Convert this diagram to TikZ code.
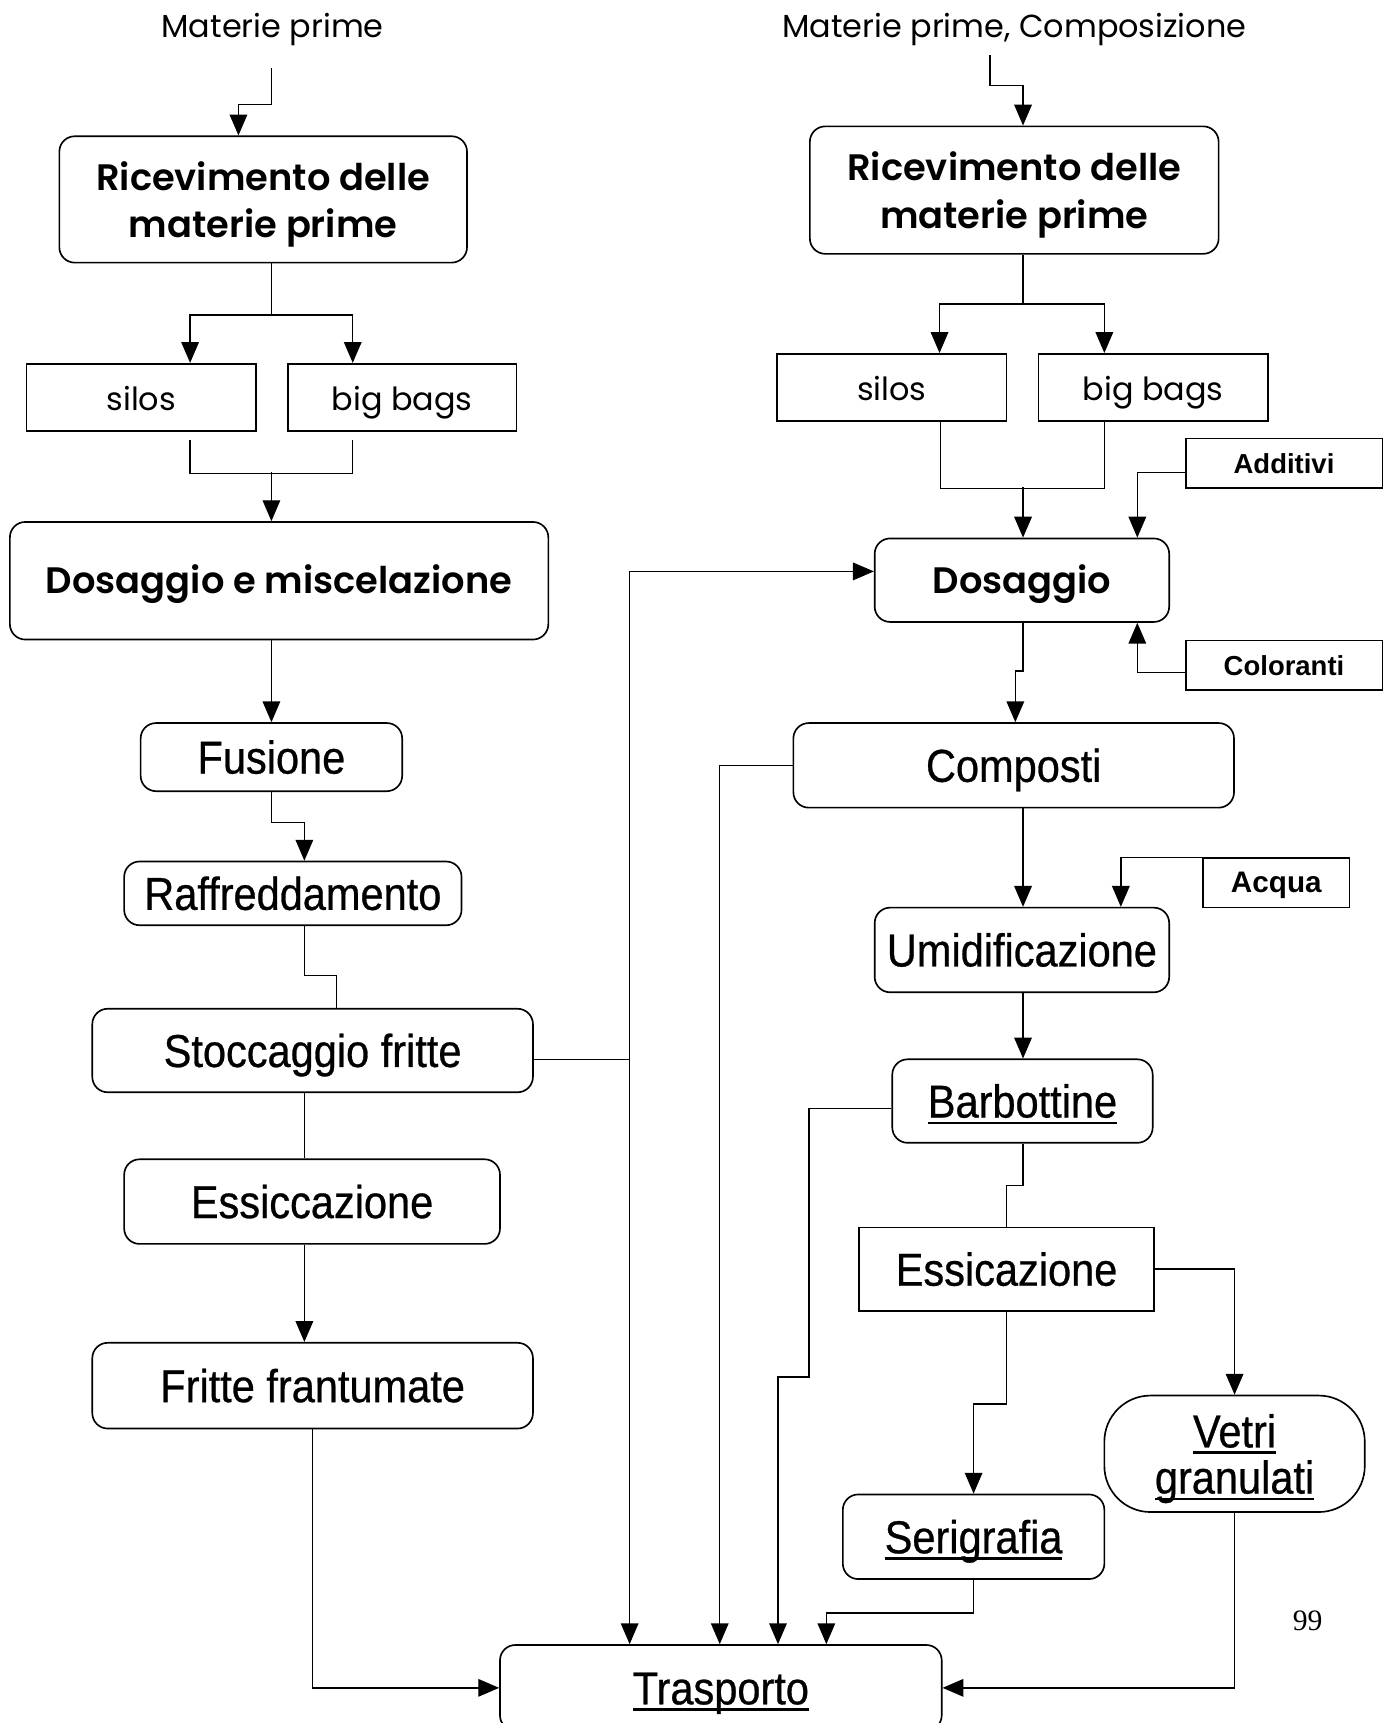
\documentclass[tikz,border=0pt]{standalone}
\usepackage{fontspec}
\setmainfont{Poppins}
\newfontfamily\headfont{Poppins SemiBold}
\newfontfamily\narrowfont[FakeStretch=0.9, FakeBold=0.6]{Liberation Sans}
\newfontfamily\tagfont{Liberation Sans}
\newfontfamily\pagefont{Liberation Serif}
\usetikzlibrary{arrows.meta}
\newcommand{\undl}[1]{\setbox0=\hbox{#1}\rlap{\rule[-6pt]{\wd0}{2.4pt}}\box0}

\begin{document}
\begin{tikzpicture}[x=1pt, y=-1pt,
		box/.style={draw, line width=1.5pt, rounded corners=14pt, align=center, inner sep=0pt},
		sharpbox/.style={draw, line width=1.5pt, align=center, inner sep=0pt},
		bigtxt/.style={font=\fontsize{33.5}{43}\headfont},
		smalltxt/.style={font=\fontsize{29}{34}\selectfont, text height=26pt, text depth=2pt},
		narrowtxt/.style={font=\fontsize{42}{42}\narrowfont, text height=36pt, text depth=6pt},
		tagtxt/.style={font=\fontsize{25}{30}\tagfont\bfseries, text height=21pt, text depth=3pt},
		line/.style={line width=1.3pt},
		arr/.style={line width=1.3pt, -{Triangle[length=19pt,width=16pt]}}]
		\useasboundingbox (0,0) rectangle (1266,1568);
		\clip (0,0) rectangle (1266,1568);

		\node[smalltxt] (matL) at (248,22) {Materie prime};
		\node[smalltxt] (matR) at (923,22) {Materie prime, Composizione};
		\node[font=\fontsize{27}{30}\pagefont] (page) at (1190,1475) {99};

		\node[box, bigtxt, text depth=0pt, minimum width=371pt, minimum height=115pt] (recL) at (239.5,181.5) {Ricevimento delle\\materie prime};
		\node[sharpbox, smalltxt, minimum width=209pt, minimum height=61pt] (silosL) at (128.5,361.5) {silos};
		\node[sharpbox, smalltxt, minimum width=208pt, minimum height=61pt] (bagsL) at (366,361.5) {big bags};
		\node[box, bigtxt, text height=30pt, text depth=6pt, minimum width=490pt, minimum height=107pt] (dosmix) at (254,528.5) {Dosaggio e miscelazione};
		\node[box, narrowtxt, minimum width=238pt, minimum height=62pt] (fusione) at (247,689) {Fusione};
		\node[box, narrowtxt, minimum width=307pt, minimum height=58pt] (raffr) at (266.5,813) {Raffreddamento};
		\node[box, narrowtxt, minimum width=401pt, minimum height=76pt] (stocc) at (284.5,956) {Stoccaggio fritte};
		\node[box, narrowtxt, minimum width=342pt, minimum height=77pt] (essicc) at (284,1093.5) {Essiccazione};
		\node[box, narrowtxt, minimum width=401pt, minimum height=78pt] (fritte) at (284.5,1261) {Fritte frantumate};

		\node[box, bigtxt, text depth=0pt, minimum width=372pt, minimum height=116pt] (recR) at (923,173) {Ricevimento delle\\materie prime};
		\node[sharpbox, smalltxt, minimum width=209pt, minimum height=61pt] (silosR) at (811.5,352.5) {silos};
		\node[sharpbox, smalltxt, minimum width=209pt, minimum height=61pt] (bagsR) at (1049.5,352.5) {big bags};
		\node[sharpbox, tagtxt, minimum width=179pt, minimum height=45pt] (additivi) at (1168.5,421.5) {Additivi};
		\node[box, bigtxt, text height=30pt, text depth=6pt, minimum width=268pt, minimum height=76pt] (dosR) at (930,528) {Dosaggio};
		\node[sharpbox, tagtxt, minimum width=179pt, minimum height=45pt] (coloranti) at (1168.5,605.5) {Coloranti};
		\node[box, narrowtxt, minimum width=401pt, minimum height=77pt] (composti) at (922.5,696.5) {Composti};
		\node[sharpbox, tagtxt, font=\fontsize{27}{30}\tagfont\bfseries, minimum width=133pt, minimum height=45pt] (acqua) at (1161.5,803.5) {Acqua};
		\node[box, narrowtxt, minimum width=268pt, minimum height=77pt] (umid) at (930,864.5) {Umidificazione};
		\node[box, narrowtxt, minimum width=237pt, minimum height=76pt] (barb) at (930.5,1002) {\undl{Barbottine}};
		\node[sharpbox, narrowtxt, minimum width=268pt, minimum height=76pt] (essR) at (916,1155) {Essicazione};
		\node[box, narrowtxt, minimum width=238pt, minimum height=77pt] (serig) at (886,1398.5) {\undl{Serigrafia}};
		\node[box, narrowtxt, text height=, text depth=0pt, rounded corners=42pt, minimum width=237pt, minimum height=106pt] (vetri) at (1123.5,1323) {\undl{Vetri}\\\undl{granulati}};
		\node[box, narrowtxt, minimum width=402pt, minimum height=78pt] (trasp) at (656,1536) {\undl{Trasporto}};

		\coordinate (inL) at (247,62);
		\coordinate (inR) at (901,50);
		\coordinate (bus) at (573,964);

		\draw[arr] (inL) -- ++(0,33) -| ([xshift=-22.5pt]recL.north);
		\draw[line] ([xshift=7.5pt]recL.south) -- ++(0,47) coordinate (jL);
		\foreach \n/\s in {silosL/44.5, bagsL/-45}
		\draw[arr] (jL) -| ([xshift=\s pt]\n.north);
		\draw[line] ([shift={(44.5,8)}]silosL.south) |- ([shift={(-45,38)}]bagsL.south) -- ([shift={(-45,8)}]bagsL.south);
		\draw[arr] ([shift={(-7,-45)}]dosmix.north) -- ([xshift=-7pt]dosmix.north);
		\draw[arr] ([xshift=-7pt]dosmix.south) -- (fusione.north);
		\draw[arr] (fusione.south) -- ++(0,28) -| ([xshift=10.5pt]raffr.north);
		\draw[line] ([xshift=10.5pt]raffr.south) -- ++(0,45) -| ([xshift=21.5pt]stocc.north);
		\draw[line] ([xshift=-7.5pt]stocc.south) -- ([xshift=-7pt]essicc.north);
		\draw[arr] ([xshift=-7pt]essicc.south) -- ([xshift=-7.5pt]fritte.north);
		\draw[arr] (fritte.south) |- (trasp.west);
		\draw[line] ([shift={(0,8)}]stocc.east) -- (bus);
		\draw[arr] (bus) -- ([xshift=-83pt]trasp.north);
		\draw[arr] (bus) |- ([yshift=8pt]dosR.west);

		\draw[arr] (inR) -- ++(0,28) -| ([xshift=8pt]recR.north);
		\draw[line] ([xshift=8pt]recR.south) -- ++(0,45) coordinate (jR);
		\foreach \n/\s in {silosR/43.5, bagsR/-44.5}
		\draw[arr] (jR) -| ([xshift=\s pt]\n.north);
		\draw[line] ([xshift=44.5pt]silosR.south) |- ([shift={(-44.5,61)}]bagsR.south) -- ([xshift=-44.5pt]bagsR.south);
		\draw[arr] ([shift={(1,-46)}]dosR.north) -- ([xshift=1pt]dosR.north);
		\draw[arr] ([yshift=-8.5pt]additivi.west) -| ([xshift=105pt]dosR.north);
		\draw[arr] ([yshift=-6.5pt]coloranti.west) -| ([xshift=105pt]dosR.south);
		\draw[arr] ([xshift=1pt]dosR.south) -- ++(0,44) -| ([xshift=1.5pt]composti.north);
		\draw[arr] (composti.west) -| ([xshift=-1pt]trasp.north);
		\draw[arr] ([xshift=8.5pt]composti.south) -- ([xshift=1pt]umid.north);
		\draw[arr] (acqua.north west) -| ([xshift=90pt]umid.north);
		\draw[arr] ([xshift=1pt]umid.south) -- ([xshift=0.5pt]barb.north);
		\draw[arr] ([yshift=-7pt]barb.west) -- ++(-75,0) -- ++(0,244) -| ([xshift=52pt]trasp.north);
		\draw[line] ([xshift=0.5pt]barb.south) -- ++(0,38) -| (essR.north);
		\draw[arr] (essR.east) -| (vetri.north);
		\draw[arr] (essR.south) -- ++(0,84) -| (serig.north);
		\draw[arr] (serig.south) -- ++(0,30) -| ([xshift=96pt]trasp.north);
		\draw[arr] (vetri.south) |- (trasp.east);
	\end{tikzpicture}
\end{document}
